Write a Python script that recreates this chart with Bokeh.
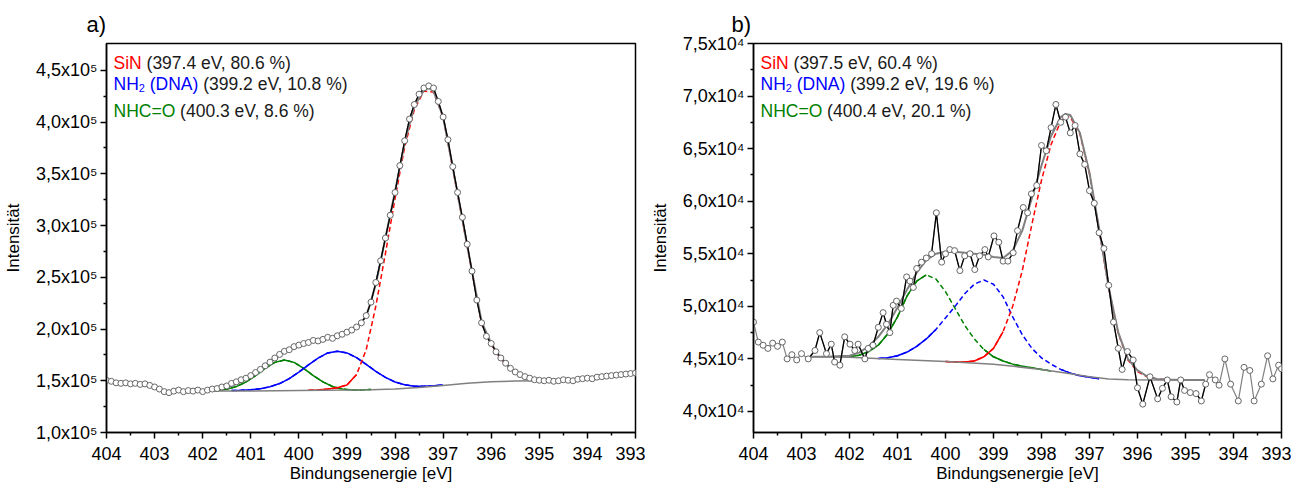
from bokeh.plotting import figure
from bokeh.layouts import row
from bokeh.models import FixedTicker, Label, Range1d, CustomJSTickFormatter
from bokeh.embed import file_html
from bokeh.resources import INLINE

FONT = "Liberation Sans"
RED, BLUE, GREEN, GRAY, DARK = "#ff0000", "#0000ff", "#008000", "#808080", "#1a1a1a"

# ---------------- panel a (intensity in units of 1e5) ----------------
a_E = [404.0, 403.9, 403.8, 403.7, 403.6, 403.5, 403.4, 403.3, 403.2, 403.1,
       403.0, 402.9, 402.8, 402.7, 402.6, 402.5, 402.4, 402.3, 402.2, 402.1,
       402.0, 401.9, 401.8, 401.7, 401.6, 401.5, 401.4, 401.3, 401.2, 401.1,
       401.0, 400.9, 400.8, 400.7, 400.6, 400.5, 400.4, 400.3, 400.2, 400.1,
       400.0, 399.9, 399.8, 399.7, 399.6, 399.5, 399.4, 399.3, 399.2, 399.1,
       399.0, 398.9, 398.8, 398.7, 398.6, 398.5, 398.4, 398.3, 398.2, 398.1,
       398.0, 397.9, 397.8, 397.7, 397.6, 397.5, 397.4, 397.3, 397.2, 397.1,
       397.0, 396.9, 396.8, 396.7, 396.6, 396.5, 396.4, 396.3, 396.2, 396.1,
       396.0, 395.9, 395.8, 395.7, 395.6, 395.5, 395.4, 395.3, 395.2, 395.1,
       395.0, 394.9, 394.8, 394.7, 394.6, 394.5, 394.4, 394.3, 394.2, 394.1,
       394.0, 393.9, 393.8, 393.7, 393.6, 393.5, 393.4, 393.3, 393.2, 393.1,
       393.0]
a_I = [1.505, 1.495, 1.48, 1.475, 1.48, 1.47, 1.475, 1.465, 1.47, 1.455,
       1.44, 1.42, 1.395, 1.385, 1.40, 1.41, 1.395, 1.405, 1.40, 1.41,
       1.395, 1.41, 1.42, 1.425, 1.44, 1.45, 1.475, 1.49, 1.51, 1.525,
       1.55, 1.58, 1.61, 1.645, 1.68, 1.72, 1.755, 1.785, 1.80, 1.83,
       1.845, 1.86, 1.87, 1.89, 1.885, 1.90, 1.92, 1.91, 1.935, 1.95,
       1.97, 1.99, 2.02, 2.06, 2.13, 2.26, 2.45, 2.66, 2.88, 3.10,
       3.32, 3.58, 3.82, 4.03, 4.17, 4.27, 4.33, 4.35, 4.33, 4.20,
       4.05, 3.83, 3.57, 3.32, 3.08, 2.82, 2.56, 2.28, 2.06, 1.93,
       1.86, 1.78, 1.72, 1.67, 1.62, 1.585, 1.56, 1.54, 1.525, 1.51,
       1.505, 1.50, 1.505, 1.495, 1.50, 1.51, 1.505, 1.50, 1.515, 1.52,
       1.525, 1.52, 1.535, 1.54, 1.545, 1.55, 1.555, 1.56, 1.565, 1.57,
       1.575]
a_env_E = [402.9, 402.6, 402.2, 402.0, 401.8, 401.6, 401.4, 401.2, 401.0, 400.8,
           400.6, 400.4, 400.2, 400.0, 399.8, 399.6, 399.4, 399.2, 399.0, 398.8,
           398.6, 398.4, 398.2, 398.0, 397.8, 397.6, 397.4, 397.3, 397.2, 397.0,
           396.8, 396.6, 396.4, 396.2, 396.0, 395.8, 395.6, 395.4, 395.2, 395.0,
           394.8, 394.6]
a_env_I = [1.402, 1.400, 1.401, 1.403, 1.41, 1.425, 1.45, 1.49, 1.545, 1.61,
           1.68, 1.745, 1.80, 1.84, 1.87, 1.895, 1.915, 1.935, 1.96, 2.02,
           2.12, 2.43, 2.88, 3.33, 3.80, 4.15, 4.31, 4.33, 4.30, 4.05,
           3.56, 3.06, 2.56, 2.07, 1.86, 1.72, 1.62, 1.56, 1.525, 1.505,
           1.50, 1.50]
a_base_E = [402.9, 402.0, 401.0, 400.0, 399.0, 398.5, 398.0, 397.5, 397.0, 396.5,
            396.0, 395.5, 395.0, 394.6]
a_base_I = [1.400, 1.400, 1.401, 1.405, 1.41, 1.414, 1.42, 1.435, 1.455, 1.475,
            1.49, 1.498, 1.50, 1.50]
a_green_E = [401.9, 401.7, 401.5, 401.3, 401.1, 400.9, 400.7, 400.5, 400.3, 400.1,
             399.9, 399.7, 399.5, 399.3, 399.1, 398.9, 398.7, 398.5]
a_green_I = [1.402, 1.407, 1.419, 1.444, 1.488, 1.55, 1.62, 1.678, 1.70, 1.678,
             1.62, 1.55, 1.49, 1.445, 1.42, 1.41, 1.412, 1.416]
a_blue_E = [401.4, 401.2, 401.0, 400.8, 400.6, 400.4, 400.2, 400.0, 399.8, 399.6,
            399.4, 399.2, 399.0, 398.8, 398.6, 398.4, 398.2, 398.0, 397.8, 397.6,
            397.4, 397.2, 397.0]
a_blue_I = [1.406, 1.408, 1.413, 1.423, 1.442, 1.473, 1.52, 1.584, 1.654, 1.719,
            1.769, 1.786, 1.769, 1.723, 1.659, 1.591, 1.533, 1.488, 1.462, 1.448,
            1.448, 1.453, 1.46]
a_red_E = [399.8, 399.6, 399.4, 399.2, 399.0, 398.8, 398.6, 398.4, 398.2, 398.0,
           397.8, 397.6, 397.4, 397.2, 397.0, 396.8, 396.6, 396.4, 396.2, 396.0,
           395.8, 395.6, 395.4, 395.2, 395.0]
a_red_I = [1.408, 1.412, 1.42, 1.433, 1.46, 1.56, 1.80, 2.22, 2.73, 3.26,
           3.76, 4.12, 4.30, 4.29, 4.05, 3.55, 3.05, 2.55, 2.05, 1.85,
           1.71, 1.62, 1.56, 1.525, 1.505]
a_legend = [("SiN", "(397.4 eV, 80.6 %)"), ("NH", "(399.2 eV, 10.8 %)"), ("NHC=O", "(400.3 eV, 8.6 %)")]

# ---------------- panel b (intensity in units of 1e3) ----------------
b_E = [404.0, 403.9, 403.8, 403.7, 403.6, 403.5, 403.4, 403.3, 403.2, 403.1,
       403.0, 402.86, 402.72, 402.62, 402.48, 402.38, 402.31, 402.2, 402.1, 401.99,
       401.89, 401.82, 401.68, 401.61, 401.51, 401.4, 401.3, 401.23, 401.16, 401.09,
       401.02, 400.92, 400.81, 400.74, 400.67, 400.6, 400.5, 400.4, 400.29, 400.19,
       400.08, 400.0, 399.91, 399.81, 399.7, 399.6, 399.49, 399.39, 399.29, 399.18,
       399.11, 398.99, 398.89, 398.8, 398.7, 398.59, 398.5, 398.38, 398.29, 398.21,
       398.1, 398.0, 397.9, 397.8, 397.7, 397.6, 397.5, 397.4, 397.3, 397.2,
       397.1, 397.0, 396.9, 396.8, 396.7, 396.6, 396.5, 396.4, 396.32, 396.21,
       396.09, 396.0, 395.89, 395.74, 395.58, 395.48, 395.38, 395.3, 395.18, 395.1,
       395.02, 394.9, 394.78, 394.67, 394.58, 394.5, 394.38, 394.3, 394.18, 394.06,
       393.9, 393.78, 393.66, 393.57, 393.42, 393.29, 393.18, 393.06, 393.0]
b_I = [48.5, 46.6, 46.3, 46.0, 46.5, 46.2, 46.6, 45.0, 45.4, 44.9,
       45.5, 45.0, 45.8, 47.5, 45.5, 46.4, 44.7, 44.4, 47.1, 46.4,
       45.8, 46.4, 45.0, 46.0, 46.3, 48.0, 49.4, 48.3, 47.5, 50.1,
       50.5, 49.8, 52.8, 52.4, 51.8, 53.6, 54.2, 54.6, 55.0, 58.9,
       54.2, 55.0, 55.4, 55.3, 53.4, 54.8, 55.0, 53.5, 54.8, 55.4,
       54.7, 56.7, 56.1, 54.3, 54.3, 55.1, 57.2, 59.4, 58.9, 60.7,
       61.5, 65.3, 64.8, 67.0, 69.2, 67.5, 68.0, 66.5, 67.2, 64.5,
       63.5, 61.0, 59.8, 57.0, 55.5, 52.0, 48.5, 46.0, 44.0, 45.7,
       44.9, 42.25, 40.7, 43.3, 41.2, 42.2, 43.0, 41.4, 40.9, 43.0,
       42.0, 41.8, 41.7, 41.0, 42.6, 43.5, 43.0, 42.5, 45.0, 42.6,
       41.0, 44.2, 43.9, 41.0, 42.6, 45.3, 43.1, 44.4, 44.05]
b_env_E = [402.8, 402.4, 402.0, 401.8, 401.6, 401.4, 401.2, 401.0, 400.8, 400.6,
           400.4, 400.2, 400.0, 399.8, 399.6, 399.4, 399.2, 399.0, 398.8, 398.6,
           398.4, 398.2, 398.0, 397.8, 397.6, 397.5, 397.4, 397.2, 397.0, 396.8,
           396.6, 396.4, 396.2, 396.0, 395.8, 395.6, 395.4, 395.0, 394.6]
b_env_I = [45.2, 45.22, 45.3, 45.6, 46.2, 47.1, 48.3, 49.9, 51.6, 53.2,
           54.4, 55.0, 55.2, 55.2, 55.1, 55.0, 54.9, 54.7, 54.6, 55.3,
           57.2, 60.3, 63.4, 66.2, 68.0, 68.3, 68.2, 66.5, 62.7, 57.4,
           51.8, 47.5, 45.0, 43.9, 43.35, 43.1, 43.03, 43.0, 43.0]
b_base_E = [402.8, 402.0, 401.0, 400.0, 399.0, 398.0, 397.5, 397.0, 396.6, 396.2,
            395.5, 394.6]
b_base_I = [45.2, 45.15, 44.95, 44.75, 44.5, 44.0, 43.65, 43.3, 43.1, 43.02,
            43.0, 43.0]
b_green_E = [402.0, 401.8, 401.6, 401.4, 401.2, 401.0, 400.8, 400.6, 400.4, 400.2,
             400.0, 399.8, 399.6, 399.4, 399.2, 399.0, 398.8, 398.6, 398.4, 398.2,
             398.0, 397.8]
b_green_I = [45.2, 45.35, 45.7, 46.3, 47.4, 49.0, 51.0, 52.4, 53.0, 52.6,
             51.4, 49.8, 48.2, 46.9, 45.9, 45.2, 44.8, 44.5, 44.3, 44.15,
             44.0, 43.85]
b_blue_E = [401.4, 401.2, 401.0, 400.8, 400.6, 400.4, 400.2, 400.0, 399.8, 399.6,
            399.4, 399.2, 399.0, 398.8, 398.6, 398.4, 398.2, 398.0, 397.8, 397.6,
            397.4, 397.2, 397.0, 396.8]
b_blue_I = [45.05, 45.1, 45.3, 45.65, 46.2, 46.9, 47.8, 48.9, 50.0, 51.2,
            52.1, 52.5, 52.1, 50.9, 49.0, 47.3, 46.0, 45.1, 44.5, 44.0,
            43.65, 43.4, 43.25, 43.12]
b_red_E = [400.0, 399.8, 399.6, 399.4, 399.2, 399.0, 398.8, 398.6, 398.4, 398.2,
           398.0, 397.8, 397.6, 397.5, 397.4, 397.2, 397.0, 396.8, 396.6, 396.4,
           396.2, 396.0, 395.8, 395.6, 395.4]
b_red_I = [44.75, 44.7, 44.7, 44.8, 45.2, 46.0, 47.6, 50.0, 53.4, 57.8,
           62.0, 65.4, 67.6, 68.1, 68.0, 66.4, 62.6, 57.3, 51.7, 47.4,
           44.9, 43.8, 43.3, 43.1, 43.02]
b_legend = [("SiN", "(397.5 eV, 60.4 %)"), ("NH", "(399.2 eV, 19.6 %)"), ("NHC=O", "(400.4 eV, 20.1 %)")]

x_major = [393, 394, 395, 396, 397, 398, 399, 400, 401, 402, 403, 404]

# Arial / Liberation Sans advance widths (1/1000 em)
ADV = {' ': 278, '(': 333, ')': 333, '.': 278, ',': 278, '%': 889, 'e': 556, 'V': 667,
       'S': 667, 'i': 222, 'N': 722, 'H': 722, 'D': 722, 'A': 667, 'C': 722, '=': 584, 'O': 778}


def tw(s, size):
    return sum(ADV.get(c, 556) for c in s) * size / 1000.0


def seg(E, I, lo, hi):
    xs, ys = [], []
    for e, v in zip(E, I):
        if lo - 1e-9 <= e <= hi + 1e-9:
            xs.append(e)
            ys.append(v)
    return xs, ys


def make_panel(tag, E, I, scale, fit_lo, fit_hi, env, base, comps, legend,
               yr, yticks, yminor, exp_char, left_border, width, title_dx):
    FH = 389
    p = figure(width=width, height=486, x_range=Range1d(404, 393), y_range=Range1d(*yr),
               output_backend="svg", toolbar_location=None,
               min_border_left=left_border, min_border_right=10, min_border_top=43,
               min_border_bottom=54)
    p.xgrid.visible = False
    p.ygrid.visible = False
    p.outline_line_color = "black"
    p.outline_line_width = 1.5
    p.background_fill_color = "white"
    p.border_fill_color = "white"

    p.title.text = tag
    p.title.align = "left"
    p.title.offset = title_dx
    p.title.standoff = 14
    p.title.text_font = FONT
    p.title.text_font_size = "22px"
    p.title.text_font_style = "normal"
    p.title.text_color = "black"

    p.xaxis.ticker = FixedTicker(ticks=x_major, minor_ticks=[t + 0.5 for t in x_major[:-1]])
    p.yaxis.ticker = FixedTicker(ticks=yticks, minor_ticks=yminor)
    p.yaxis.formatter = CustomJSTickFormatter(
        args=dict(sc=float(yticks[1] - yticks[0]) * 2, ex=exp_char),
        code="return (tick/sc).toFixed(1).replace('.', ',') + 'x10' + ex;")
    for axes in (p.xaxis, p.yaxis):
        axes.axis_line_width = 1.5
        axes.axis_line_color = "black"
        axes.major_tick_line_width = 1.5
        axes.minor_tick_line_width = 1.5
        axes.major_tick_in = 0
        axes.major_tick_out = 6
        axes.minor_tick_in = 0
        axes.minor_tick_out = 3
        axes.major_label_text_font = FONT
        axes.major_label_text_font_size = "18px"
        axes.major_label_text_color = "black"
        axes.axis_label_text_font = FONT
        axes.axis_label_text_font_size = "17px"
        axes.axis_label_text_font_style = "normal"
        axes.axis_label_text_color = "black"
    p.xaxis.major_label_standoff = 8
    p.xaxis.axis_label_standoff = 1
    p.yaxis.major_label_standoff = 3
    p.yaxis.axis_label_standoff = 10
    p.xaxis.axis_label = "Bindungsenergie [eV]"
    p.yaxis.axis_label = "Intensität"

    def S(v):
        return [x * scale for x in v]

    for cE, cI, col, solids in comps:
        p.line(cE, S(cI), line_color=col, line_width=1.5, line_dash="5 3")
        for lo, hi in solids:
            xs, ys = seg(cE, cI, lo, hi)
            p.line(xs, S(ys), line_color=col, line_width=1.5)
    p.line(base[0], S(base[1]), line_color=GRAY, line_width=1.5)
    p.line(env[0], S(env[1]), line_color=GRAY, line_width=2)
    p.line(E, S(I), line_color=GRAY, line_width=1.2)
    xs, ys = seg(E, I, fit_lo, fit_hi)
    p.line(xs, S(ys), line_color="black", line_width=1.3)
    p.scatter(E, S(I), size=6, fill_color="white", line_color="#666666", line_width=1)

    fs = 17.5
    x0 = 7
    y1, y2, y3 = FH - 19, FH - 40, FH - 67
    (n1, t1), (n2, t2), (n3, t3) = legend
    items = [
        (n1, RED, fs, x0, y1), (t1, DARK, fs, x0 + tw(n1 + " ", fs), y1),
        (n2, BLUE, fs, x0, y2), ("2", BLUE, 11, x0 + tw(n2, fs), y2 - 4.5),
        ("(DNA)", BLUE, fs, x0 + tw(n2, fs) + tw("2", 11) + tw(" ", fs), y2),
        (t2, DARK, fs, x0 + tw(n2, fs) + tw("2", 11) + tw(" (DNA) ", fs), y2),
        (n3, GREEN, fs, x0, y3), (t3, DARK, fs, x0 + tw(n3 + " ", fs), y3),
    ]
    for txt, col, size, x, y in items:
        p.add_layout(Label(x=x, y=y, x_units="screen", y_units="screen", text=txt,
                           text_font=FONT, text_font_size=f"{size}px", text_color=col,
                           text_baseline="alphabetic", text_align="left"))
    return p


pa = make_panel("a)", a_E, a_I, 1e5, 394.6, 402.9, (a_env_E, a_env_I), (a_base_E, a_base_I),
                [(a_green_E, a_green_I, GREEN, [(390, 410)]),
                 (a_blue_E, a_blue_I, BLUE, [(390, 410)]),
                 (a_red_E, a_red_I, RED, [(398.8, 399.8)])],
                a_legend, (1.0e5, 4.76e5),
                [100000, 150000, 200000, 250000, 300000, 350000, 400000, 450000],
                [125000, 175000, 225000, 275000, 325000, 375000, 425000],
                "\u2075", 106, 645, -20)
pb = make_panel("b)", b_E, b_I, 1e3, 394.58, 402.86, (b_env_E, b_env_I), (b_base_E, b_base_I),
                [(b_green_E, b_green_I, GREEN, [(400.4, 402.0), (397.8, 399.2)]),
                 (b_blue_E, b_blue_I, BLUE, [(400.2, 401.4), (396.8, 397.6)]),
                 (b_red_E, b_red_I, RED, [(398.8, 400.0)])],
                b_legend, (38000, 75000),
                [40000, 45000, 50000, 55000, 60000, 65000, 70000, 75000],
                [42500, 47500, 52500, 57500, 62500, 67500, 72500],
                "\u2074", 108, 646, -22)

layout = row(pa, pb)
open("out.html", "w").write(file_html(layout, INLINE))
